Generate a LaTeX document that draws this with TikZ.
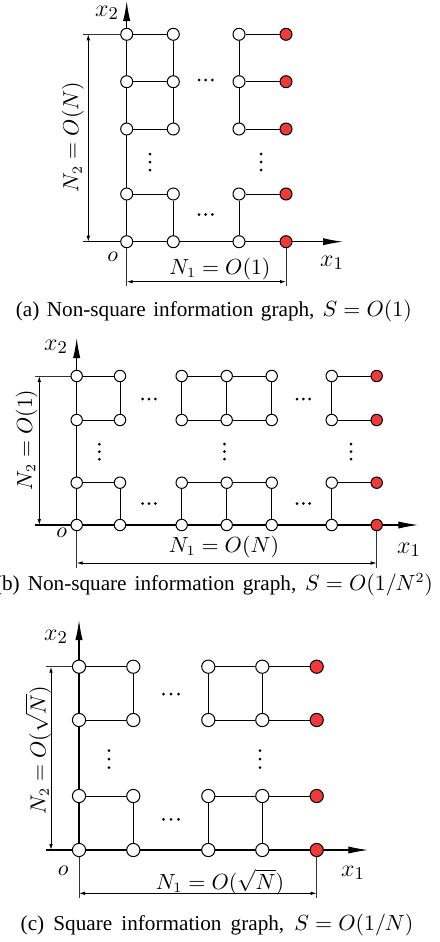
\documentclass[tikz,border=0pt]{standalone}
\usepackage[no-math]{fontspec}
\setmainfont{Liberation Serif}
\usetikzlibrary{arrows.meta,backgrounds}
\definecolor{nred}{RGB}{238,58,58}
\tikzset{
  x=0.5pt, y=-0.5pt,
  vtx/.style={circle, draw=black, line width=0.5pt, fill=white, inner sep=0pt, minimum size=#1},
  rvtx/.style={vtx=#1, fill=nred},
  edge/.style={line width=0.5pt},
  axis/.style={line width=0.55pt, -{Latex[length=10pt,width=3.6pt]}},
  extline/.style={line width=0.45pt, draw=black!80},
  dimarrow/.style={line width=0.45pt, {Latex[length=3pt,width=1.8pt]}-{Latex[length=3pt,width=1.8pt]}},
  lab/.style={inner sep=0pt, font=\fontsize{13}{15}\selectfont},
  dimlab/.style={inner sep=0pt, font=\fontsize{10.7}{12}\selectfont},
  captext/.style={inner sep=0pt, font=\fontsize{10.6}{12}\selectfont},
  dotn/.style={circle, fill=black, inner sep=0pt, minimum size=1.5pt},
}
% horizontal / vertical dot groups: name, x, y, spacing
\newcommand{\hdts}[4]{%
  \node[dotn] (#1a) at (#2-#4,#3) {};
  \node[dotn] (#1b) at (#2,#3) {};
  \node[dotn] (#1c) at (#2+#4,#3) {};}
\newcommand{\vdts}[4]{%
  \node[dotn] (#1a) at (#2,#3-#4) {};
  \node[dotn] (#1b) at (#2,#3) {};
  \node[dotn] (#1c) at (#2,#3+#4) {};}
\begin{document}
\begin{tikzpicture}
\useasboundingbox (0,0) rectangle (439,942);

% ================= panel (a) =================
\foreach \c/\xx in {0/126.7,1/173.3,2/239}
  \foreach \r/\yy in {0/241.7,1/194,2/129,3/81.7,4/34.3}
    \node[vtx=6pt] (a\c\r) at (\xx,\yy) {};
\foreach \r/\yy in {0/241.7,1/194,2/129,3/81.7,4/34.3}
  \node[rvtx=6pt] (a3\r) at (286,\yy) {};
\coordinate (aL) at (83,241.7);
\coordinate (aX) at (343,241.7);
\coordinate (aY) at (126.7,1);
\coordinate (aT) at (83,34.3);
\coordinate (aD1) at (88.3,34.3);
\coordinate (aD2) at (88.3,241.7);
\coordinate (aE0) at (126.7,286);
\coordinate (aE3) at (286,286);
\coordinate (aH0) at (126.7,281.7);
\coordinate (aH3) at (286,281.7);
\begin{scope}[on background layer]
  \draw[axis] (aL) -- (aX);
  \draw[axis] (a00.center) -- (aY);
  \draw[extline] (aT) -- (a04);
  \foreach \r in {1,2,3,4} {
    \draw[edge] (a0\r) -- (a1\r);
    \draw[edge] (a2\r) -- (a3\r);
  }
  \foreach \c in {1,2} {
    \draw[edge] (a\c4) -- (a\c3);
    \draw[edge] (a\c3) -- (a\c2);
    \draw[edge] (a\c1) -- (a\c0);
  }
  \draw[extline] (a00) -- (aE0);
  \draw[extline] (a30) -- (aE3);
\end{scope}
\draw[dimarrow] (aD1) -- (aD2);
\draw[dimarrow] (aH0) -- (aH3);
\node[dimlab, rotate=90] (aN2) at (73,137) {$N_2=O(N)$};
\node[dimlab] (aN1) at (220,269) {$N_1=O(1)$};
\node[lab] (ax2) at (107,13) {$x_2$};
\node[lab] (ax1) at (332,263) {$x_1$};
\node[dimlab] (ao) at (112.7,257) {$o$};
\hdts{ad1}{205.7}{80}{6.7}
\hdts{ad2}{205.7}{214.5}{6.7}
\vdts{ad3}{150}{162}{8}
\vdts{ad4}{261}{162}{8}
\node[captext] (acap) at (213.8,311) {\makebox[198pt][s]{(a) Non-square information graph, \mbox{$S=O(1)$}}};

% ================= panel (b) =================
\foreach \c/\xx in {0/76.7,1/120,2/181.7,3/226.7,4/271.7,5/331.7}
  \foreach \r/\yy in {0/525,1/482.7,2/420,3/376}
    \node[vtx=5.7pt] (b\c\r) at (\xx,\yy) {};
\foreach \r/\yy in {0/525,1/482.7,2/420,3/376}
  \node[rvtx=5.7pt] (b6\r) at (376.7,\yy) {};
\coordinate (bL) at (35,525);
\coordinate (bX) at (418.3,525);
\coordinate (bY) at (76.7,338);
\coordinate (bT) at (35,376);
\coordinate (bD1) at (39.3,376);
\coordinate (bD2) at (39.3,525);
\coordinate (bE0) at (76.7,568);
\coordinate (bE6) at (376.7,568);
\coordinate (bH0) at (76.7,563);
\coordinate (bH6) at (376.7,563);
\begin{scope}[on background layer]
  \draw[axis] (bL) -- (bX);
  \draw[axis] (b00.center) -- (bY);
  \draw[extline] (bT) -- (b03);
  \foreach \r in {1,2,3} {
    \draw[edge] (b0\r) -- (b1\r);
    \draw[edge] (b2\r) -- (b3\r);
    \draw[edge] (b3\r) -- (b4\r);
    \draw[edge] (b5\r) -- (b6\r);
  }
  \foreach \c in {1,2,3,4,5} {
    \draw[edge] (b\c3) -- (b\c2);
    \draw[edge] (b\c1) -- (b\c0);
  }
  \draw[extline] (b00) -- (bE0);
  \draw[extline] (b60) -- (bE6);
\end{scope}
\draw[dimarrow] (bD1) -- (bD2);
\draw[dimarrow] (bH0) -- (bH6);
\node[dimlab, rotate=90] (bN2) at (26.7,440) {$N_2=O(1)$};
\node[dimlab] (bN1) at (224,547) {$N_1=O(N)$};
\node[lab] (bx2) at (56,347) {$x_2$};
\node[lab] (bx1) at (409,550) {$x_1$};
\node[dimlab] (bo) at (61.7,533) {$o$};
\hdts{bd1}{149}{399}{6.3}
\hdts{bd2}{149}{503.5}{6.3}
\hdts{bd3}{303.3}{399}{6.3}
\hdts{bd4}{303.3}{503.5}{6.3}
\vdts{bd5}{99.3}{451.7}{7.5}
\vdts{bd6}{224.5}{451.7}{7.5}
\vdts{bd7}{351}{451.7}{7.5}
\node[captext] (bcap) at (214,585) {\makebox[219pt][s]{(b) Non-square information graph, \mbox{$S=O(1/N^2)$}}};

% ================= panel (c) =================
\foreach \c/\xx in {0/79,1/133.3,2/208.3,3/262.3}
  \foreach \r/\yy in {0/850,1/796,2/720,3/666.7}
    \node[vtx=6.6pt] (c\c\r) at (\xx,\yy) {};
\foreach \r/\yy in {0/850,1/796,2/720,3/666.7}
  \node[rvtx=6.6pt] (c4\r) at (316.7,\yy) {};
\coordinate (cL) at (46,850);
\coordinate (cX) at (368.3,850);
\coordinate (cY) at (79,620);
\coordinate (cT) at (46,666.7);
\coordinate (cD1) at (51,666.7);
\coordinate (cD2) at (51,850);
\coordinate (cE0) at (79,898);
\coordinate (cE4) at (316.7,898);
\coordinate (cH0) at (79,893.3);
\coordinate (cH4) at (316.7,893.3);
\begin{scope}[on background layer]
  \draw[axis] (cL) -- (cX);
  \draw[axis] (c00.center) -- (cY);
  \draw[extline] (cT) -- (c03);
  \foreach \r in {1,2,3} {
    \draw[edge] (c0\r) -- (c1\r);
    \draw[edge] (c2\r) -- (c3\r);
    \draw[edge] (c3\r) -- (c4\r);
  }
  \foreach \c in {1,2,3} {
    \draw[edge] (c\c3) -- (c\c2);
    \draw[edge] (c\c1) -- (c\c0);
  }
  \draw[extline] (c00) -- (cE0);
  \draw[extline] (c40) -- (cE4);
\end{scope}
\draw[dimarrow] (cD1) -- (cD2);
\draw[dimarrow] (cH0) -- (cH4);
\node[dimlab, rotate=90] (cN2) at (38.3,750) {$N_2=O(\sqrt{N})$};
\node[dimlab] (cN1) at (220,881.7) {$N_1=O(\sqrt{N})$};
\node[lab] (cx2) at (56,636.7) {$x_2$};
\node[lab] (cx1) at (353,873) {$x_1$};
\node[dimlab] (co) at (63.3,870.7) {$o$};
\hdts{cd1}{171}{694}{7.5}
\hdts{cd2}{171}{819.3}{7.5}
\vdts{cd3}{109}{759}{8.5}
\vdts{cd4}{260}{759}{8.5}
\node[captext] (ccap) at (217,925) {\makebox[196.3pt][s]{(c) Square information graph, \mbox{$S=O(1/N)$}}};
\end{tikzpicture}
\end{document}
